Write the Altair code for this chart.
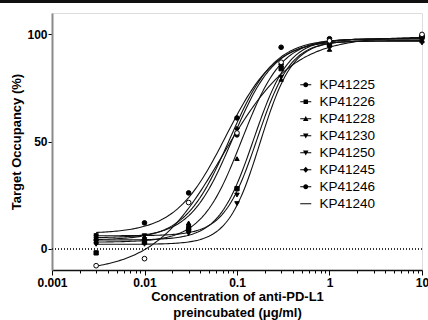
import altair as alt
import pandas as pd

# ---------------- data ----------------
conc = [0.003, 0.01, 0.03, 0.1, 0.3, 1, 10]
series = ["KP41225", "KP41226", "KP41228", "KP41230",
          "KP41250", "KP41245", "KP41246", "KP41240"]

occ_KP41225 = [6, 4, 10, 53, 86, 96, 98]
occ_KP41226 = [-2, 3, 9, 28, 84, 95, 99]
occ_KP41228 = [3, 5, 12, 42, 79, 93, 97]
occ_KP41230 = [6, 6, 8, 25, 85, 96, 98]
occ_KP41250 = [2, 2, 7, 21, 80, 94, 96]
occ_KP41245 = [5, 5, 11, 56, 85, 97, 99]
occ_KP41246 = [4, 12, 26, 61, 94, 98, 99]
occ_KP41240 = [-8, -4.7, 21.5, 54, 87, 97, 100]
occupancy = [occ_KP41225, occ_KP41226, occ_KP41228, occ_KP41230,
             occ_KP41250, occ_KP41245, occ_KP41246, occ_KP41240]

# fitted 4-parameter logistic curves
fit_bottom = [5, 4, 3, 6, 2, 4, 7, -11]
fit_top = [97, 98, 98, 97, 97, 98, 98, 99]
fit_log_ec50 = [-1.05, -0.82, -0.95, -0.78, -0.75, -1.08, -1.12, -1.15]
fit_hill = [1.9, 2.3, 2.0, 2.4, 2.5, 1.8, 1.6, 1.15]

x_ticks = [m * d for d in [0.001, 0.01, 0.1, 1] for m in range(1, 10)] + [10]
y_ticks = [0, 50, 100]

# ---------------- tables ----------------
pts = pd.DataFrame(
    [{"series": s, "conc": c, "occ": v}
     for s, vals in zip(series, occupancy) for c, v in zip(conc, vals)]
)
fits = pd.DataFrame({"series": series, "bottom": fit_bottom, "top": fit_top,
                     "logec": fit_log_ec50, "hill": fit_hill})

FONT = "Liberation Sans"

x_scale = alt.Scale(type="log", domain=[0.001, 10], nice=False)
y_scale = alt.Scale(domain=[-10, 110], nice=False, zero=False)

is_major = "abs(log(datum.value)/LN10 - round(log(datum.value)/LN10)) < 1e-6"

x_axis = alt.Axis(
    values=x_ticks, grid=False, orient="bottom",
    labelExpr=is_major + " ? datum.label : ''",
    format="~g",
    tickSize={"condition": {"test": is_major, "value": 5}, "value": 3},
    tickColor="black", tickWidth=1, domainColor="#111", domainWidth=1.6,
    labelFont=FONT, labelFontSize=12, labelFontWeight="bold", labelColor="black",
    labelPadding=2, labelOverlap=False, labelFlush=False,
    title=["Concentration of anti-PD-L1", "preincubated (\u03bcg/ml)"],
    titleFont=FONT, titleFontSize=13, titleFontWeight="bold", titleColor="black",
    titlePadding=2, titleLineHeight=16,
)
y_axis = alt.Axis(
    values=y_ticks, grid=False, tickSize=4, tickColor="black", tickWidth=1,
    domainColor="#8a8a8a", domainWidth=2,
    labelFont=FONT, labelFontSize=12, labelFontWeight="bold", labelColor="black",
    labelPadding=1,
    title="Target Occupancy (%)", titleFont=FONT, titleFontSize=13,
    titleFontWeight="bold", titleColor="black", titlePadding=3,
)

zero_line = alt.Chart(pts).mark_rule(color="#333", strokeWidth=1, strokeDash=[1, 2]).encode(
    y=alt.Y(datum=0, scale=y_scale)
)

curves = (
    alt.Chart(fits)
    .transform_calculate(lx="sequence(-2.523, 1.001, 0.02)")
    .transform_flatten(["lx"])
    .transform_calculate(
        conc="pow(10, datum.lx)",
        occ="datum.bottom + (datum.top - datum.bottom) / (1 + pow(10, (datum.logec - datum.lx) * datum.hill))",
    )
    .mark_line(color="#111", strokeWidth=1.1, clip=True)
    .encode(
        x=alt.X("conc:Q", scale=x_scale, axis=x_axis),
        y=alt.Y("occ:Q", scale=y_scale, axis=y_axis),
        detail="series:N",
        order="lx:Q",
    )
)

plain_shapes = ["circle", "square", "triangle-up", "triangle-down",
                "triangle-down", "diamond", "circle", "circle"]
fills = ["black"] * 7 + ["white"]
sizes = [18, 22, 22, 14, 24, 26, 34, 22]

points = alt.Chart(pts).mark_point(filled=True, stroke="black", strokeWidth=1, opacity=1).encode(
    x=alt.X("conc:Q", scale=x_scale, axis=x_axis),
    y=alt.Y("occ:Q", scale=y_scale, axis=y_axis),
    shape=alt.Shape("series:N", scale=alt.Scale(domain=series, range=plain_shapes), legend=None),
    fill=alt.Fill("series:N", scale=alt.Scale(domain=series, range=fills), legend=None),
    size=alt.Size("series:N", scale=alt.Scale(domain=series, range=sizes), legend=None),
)

line = "M-1,-0.09H1V0.09H-1Z"
circ = "M-0.45,0A0.45,0.45 0 1,1 0.45,0A0.45,0.45 0 1,1 -0.45,0Z"
sq = "M-0.4,-0.4H0.4V0.4H-0.4Z"
tup = "M0,-0.5L0.5,0.4H-0.5Z"
tdn = "M0,0.5L-0.5,-0.4H0.5Z"
dia = "M0,-0.55L0.5,0L0,0.55L-0.5,0Z"
legend_shapes = [line + circ, line + sq, line + tup, line + tdn,
                 line + tdn, line + dia, line + circ, line]

legend_layer = (
    alt.Chart(pts)
    .transform_filter("datum.occ > 1000")
    .mark_point(filled=True, color="black")
    .encode(
        x=alt.X("conc:Q", scale=x_scale, axis=x_axis),
        y=alt.Y("occ:Q", scale=y_scale, axis=y_axis),
        shape=alt.Shape(
            "series:N",
            scale=alt.Scale(domain=series, range=legend_shapes),
            legend=alt.Legend(
                title=None, orient="none", legendX=247, legendY=65,
                symbolSize=121, symbolFillColor="black", symbolStrokeColor="black",
                symbolStrokeWidth=0, symbolOpacity=1,
                labelFont=FONT, labelFontSize=13.5, labelColor="black",
                labelOffset=7, rowPadding=2, padding=0,
            ),
        ),
    )
)

top_border = alt.Chart(pts).mark_rule(color="#111", strokeWidth=2).encode(
    x=alt.value(-52), x2=alt.value(376), y=alt.value(-11.5)
)

chart = (
    alt.layer(zero_line, curves, points, legend_layer, top_border)
    .resolve_scale(shape="independent")
    .properties(width=370, height=257, padding={"left": 52, "top": 13, "right": 6, "bottom": 50},
                autosize=alt.AutoSizeParams(type="none"))
    .configure_view(stroke=None)
    .configure(background="white")
)

chart.save("out.html", embed_options={"renderer": "svg", "actions": False})
